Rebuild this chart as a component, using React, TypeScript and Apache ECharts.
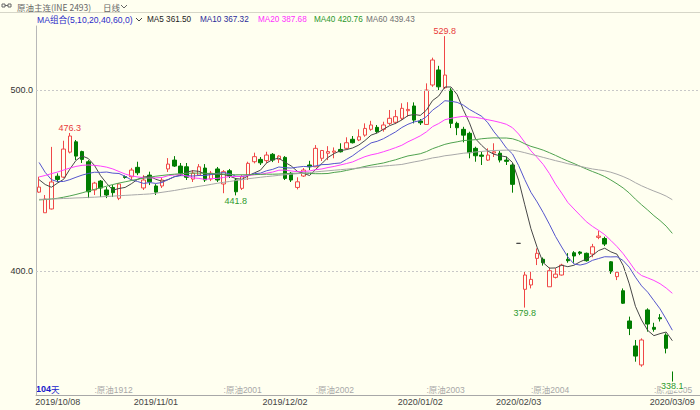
import React, { useEffect, useRef } from "react";
import * as echarts from "echarts";

const dates = [
  "2019/09/30",
  "2019/10/08","2019/10/09","2019/10/10","2019/10/11","2019/10/14","2019/10/15","2019/10/16","2019/10/17","2019/10/18",
  "2019/10/21","2019/10/22","2019/10/23","2019/10/24","2019/10/25","2019/10/28","2019/10/29","2019/10/30","2019/10/31",
  "2019/11/01","2019/11/04","2019/11/05","2019/11/06","2019/11/07","2019/11/08","2019/11/11","2019/11/12","2019/11/13",
  "2019/11/14","2019/11/15","2019/11/18","2019/11/19","2019/11/20","2019/11/21","2019/11/22","2019/11/25","2019/11/26",
  "2019/11/27","2019/11/28","2019/11/29",
  "2019/12/02","2019/12/03","2019/12/04","2019/12/05","2019/12/06","2019/12/09","2019/12/10","2019/12/11","2019/12/12",
  "2019/12/13","2019/12/16","2019/12/17","2019/12/18","2019/12/19","2019/12/20","2019/12/23","2019/12/24","2019/12/25",
  "2019/12/26","2019/12/27","2019/12/30","2019/12/31",
  "2020/01/02","2020/01/03","2020/01/06","2020/01/07","2020/01/08","2020/01/09","2020/01/10","2020/01/13","2020/01/14",
  "2020/01/15","2020/01/16","2020/01/17","2020/01/20","2020/01/21","2020/01/22","2020/01/23",
  "2020/02/03","2020/02/04","2020/02/05","2020/02/06","2020/02/07","2020/02/10","2020/02/11","2020/02/12","2020/02/13",
  "2020/02/14","2020/02/17","2020/02/18","2020/02/19","2020/02/20","2020/02/21","2020/02/24","2020/02/25","2020/02/26",
  "2020/02/27","2020/02/28",
  "2020/03/02","2020/03/03","2020/03/04","2020/03/05","2020/03/06","2020/03/09",
];

const openP = [
  443.6,432.2,434.3,452.4,451.9,465.7,471.4,466.0,460.4,444.8,
  449.7,444.8,446.2,440.2,452.2,452.1,457.3,445.9,453.0,447.0,
  447.0,456.4,461.3,458.0,457.6,450.8,453.0,456.9,450.8,456.4,
  448.1,455.4,450.3,445.7,453.0,460.4,461.7,461.0,464.5,461.7,
  462.8,454.0,446.2,452.5,458.6,457.6,462.3,465.1,465.7,467.2,
  467.8,472.8,472.4,475.1,478.3,479.4,478.3,481.6,482.2,484.4,
  488.6,491.2,482.9,481.0,502.8,511.1,501.3,500.0,481.6,478.3,
  476.1,467.8,464.1,461.3,465.2,465.1,461.3,458.6,415.3,389.9,
  392.3,407.0,406.5,391.3,396.5,397.8,406.5,410.1,410.5,409.8,
  409.4,418.6,418.0,405.1,396.9,389.1,372.4,358.6,348.1,378.5,
  368.9,374.2,364.6,338.1,
];
const closeP = [
  446.4,439.8,449.2,450.6,467.4,474.6,463.5,461.7,443.8,448.6,
  445.9,442.0,443.3,448.1,451.7,455.8,454.3,450.3,449.3,443.6,
  450.3,459.1,458.0,454.1,451.8,454.1,457.6,450.3,454.1,450.3,
  454.9,452.5,443.8,452.1,459.5,463.2,459.8,464.1,461.3,463.5,
  451.2,450.3,449.3,455.8,457.6,467.8,466.6,466.0,466.3,465.9,
  470.9,470.9,474.2,478.8,480.7,477.0,480.7,484.4,485.3,489.9,
  489.3,483.4,481.9,500.0,516.6,501.8,508.3,481.6,479.2,475.1,
  465.4,463.7,463.4,464.1,465.9,461.3,460.6,447.9,415.3,397.8,
  395.4,409.8,404.6,400.2,398.3,403.3,405.7,408.3,409.8,405.7,
  413.4,419.3,414.9,399.6,399.3,382.2,368.3,353.0,361.9,370.7,
  367.8,373.6,357.3,338.1,
];
const lowP = [
  443.2,432.2,434.0,449.0,451.4,465.0,461.3,459.7,440.3,442.0,
  440.9,440.3,440.9,439.2,451.0,450.3,453.0,444.8,447.5,442.0,
  445.9,454.7,457.5,452.5,450.3,449.2,452.5,449.2,449.7,449.2,
  443.0,451.4,441.8,444.8,450.3,459.5,458.6,459.7,460.2,459.7,
  450.3,449.2,445.1,452.0,455.8,457.5,460.8,461.3,462.3,465.5,
  467.2,470.5,471.8,474.2,477.5,476.2,477.0,480.7,481.2,483.4,
  485.3,481.6,480.7,480.7,501.8,500.0,500.6,479.0,475.1,471.1,
  462.3,460.4,458.6,460.8,463.0,460.0,458.6,443.3,415.3,379.8,
  390.4,403.3,403.0,391.3,395.9,397.5,404.6,404.6,408.8,405.2,
  407.6,417.6,413.8,398.4,395.0,381.8,364.6,349.9,347.1,366.5,
  366.5,372.1,354.5,338.1,
];
const highP = [
  452.1,442.0,468.6,454.0,472.0,476.3,472.4,466.5,461.3,449.3,
  450.3,446.4,447.5,448.5,452.8,457.0,460.4,453.0,454.9,448.0,
  451.4,462.4,463.5,459.7,459.7,455.8,459.1,459.1,455.3,457.5,
  455.8,456.4,451.4,453.0,460.4,465.4,463.0,465.9,465.2,464.0,
  463.5,454.7,451.8,456.9,460.9,469.6,466.9,469.0,468.3,470.6,
  473.9,474.6,478.3,481.6,483.0,480.7,482.5,489.0,489.0,492.7,
  493.3,493.2,484.0,503.7,517.9,513.4,529.8,501.1,482.5,479.7,
  477.0,468.7,465.9,467.8,470.6,466.3,463.2,459.7,415.3,399.6,
  399.6,412.5,407.5,402.0,401.6,404.0,409.9,411.0,411.0,410.2,
  415.0,422.3,419.0,405.5,399.6,390.4,374.8,361.9,362.8,379.4,
  371.4,376.2,365.6,344.5,
];

const ma5 = [
  450.5,447.8,446.3,448.6,450.7,456.3,461.1,463.6,462.2,458.4,
  452.7,448.4,444.7,445.6,446.2,448.2,450.6,452.0,452.3,450.7,
  449.6,450.5,452.1,453.0,454.7,455.4,455.1,453.6,453.6,453.3,
  453.4,452.4,451.1,450.7,452.6,454.2,455.7,459.7,461.6,462.4,
  460.0,458.1,455.1,454.0,452.8,456.2,459.4,462.8,464.9,466.5,
  467.1,468.0,469.6,472.1,475.1,476.3,478.3,480.3,481.6,483.5,
  485.9,486.5,486.0,488.9,494.2,496.7,501.7,501.7,497.5,489.2,
  481.9,473.0,469.4,466.3,464.5,463.7,463.1,460.0,450.2,436.6,
  423.4,413.2,404.6,401.6,401.7,403.2,402.4,403.2,405.1,406.6,
  408.6,411.3,412.6,410.6,409.3,403.1,392.9,380.5,372.9,367.2,
  364.3,365.4,366.3,361.5,
];
const ma10 = [
  460.0,454.5,450.5,449.4,449.5,450.5,451.8,453.0,453.9,454.6,
  454.5,454.7,454.1,453.9,452.3,450.4,449.5,448.4,448.9,448.4,
  448.9,450.6,452.1,452.7,452.7,452.5,452.8,452.8,453.3,454.0,
  454.4,453.8,452.4,452.2,452.9,453.8,454.1,455.4,456.2,457.5,
  457.1,456.9,457.4,457.8,457.6,458.1,458.8,458.9,459.4,459.7,
  461.7,463.7,466.2,468.5,470.8,471.7,473.1,475.0,476.9,479.3,
  481.1,482.4,483.1,485.3,488.9,491.3,494.1,493.8,493.2,491.7,
  489.3,487.4,485.5,481.9,476.9,472.8,468.0,464.7,458.3,450.5,
  443.5,438.2,432.3,425.9,419.1,413.3,407.8,403.9,403.3,404.1,
  405.9,406.9,407.9,407.8,407.9,405.8,402.1,396.6,391.8,388.3,
  383.7,379.1,373.4,367.3,
];
const ma20 = [
  452.0,452.8,453.8,454.7,455.8,456.9,457.8,458.4,458.6,458.4,
  458.0,457.4,456.4,455.0,453.6,452.6,452.0,451.6,451.4,451.5,
  451.7,452.7,453.1,453.3,452.5,451.5,451.2,450.6,451.1,451.2,
  451.7,452.2,452.2,452.4,452.8,453.2,453.4,454.1,454.7,455.7,
  455.8,455.3,454.9,455.0,455.3,456.0,456.4,457.2,457.8,458.6,
  459.4,460.3,461.8,463.2,464.2,464.9,465.9,467.0,468.2,469.5,
  471.4,473.0,474.7,476.9,479.8,481.5,483.6,484.4,485.0,485.5,
  485.2,484.9,484.3,483.6,482.9,482.1,481.1,479.2,475.7,471.1,
  466.4,462.8,458.9,453.9,448.0,443.1,437.9,434.3,430.8,427.3,
  424.7,422.5,420.1,416.9,413.5,409.6,405.0,400.2,397.5,396.2,
  394.8,393.0,390.6,387.7,
];
const ma40 = [
  439.3,439.5,439.8,440.2,440.8,441.5,442.3,443.2,444.2,445.1,
  446.0,446.9,447.8,448.6,449.3,450.0,450.7,451.3,451.9,452.4,
  452.8,453.2,453.5,453.8,454.0,454.1,454.1,454.0,453.9,453.7,
  453.5,453.3,453.2,453.2,453.2,453.3,453.4,453.5,453.5,453.6,
  453.8,454.0,454.0,454.2,453.9,453.8,453.8,453.9,454.5,454.9,
  455.6,456.3,457.0,457.8,458.5,459.1,459.7,460.6,461.5,462.6,
  463.6,464.2,464.8,466.0,467.6,468.8,470.0,470.8,471.4,472.1,
  472.3,472.6,473.1,473.4,473.6,473.5,473.5,473.1,472.0,470.3,
  468.9,467.9,466.8,465.4,463.9,462.3,460.8,459.4,457.9,456.4,
  455.0,453.7,452.2,450.3,448.2,445.9,443.1,439.7,436.6,433.7,
  430.6,427.9,424.8,420.8,
];
const ma60 = [
  439.6,439.7,439.8,439.9,440.1,440.2,440.4,440.5,440.7,440.8,
  441.0,441.2,441.4,441.6,441.8,442.0,442.2,442.4,442.6,443.0,
  443.5,444.0,444.5,445.1,445.7,446.2,446.8,447.3,447.9,448.5,
  449.0,449.5,450.0,450.5,451.0,451.4,451.8,452.2,452.5,452.9,
  453.2,453.5,453.8,454.1,454.4,454.8,455.1,455.4,455.7,456.0,
  456.3,456.6,456.9,457.2,457.4,457.7,458.0,458.3,458.6,458.9,
  459.6,460.3,460.9,461.7,462.5,463.0,463.7,464.1,464.6,465.1,
  465.4,465.8,466.1,466.4,466.6,466.7,466.8,466.8,466.2,465.4,
  464.5,463.7,462.8,461.9,461.0,460.2,459.3,458.6,457.9,457.1,
  456.4,455.9,455.4,454.6,453.5,452.2,450.7,448.8,447.1,445.6,
  444.2,442.9,441.4,439.4,
];

const maNames = ["MA5", "MA10", "MA20", "MA40", "MA60"];
const maLast = ["361.50", "367.32", "387.68", "420.76", "439.43"];
const yTicks = [400, 500];
const xLabelIdx = [1, 19, 40, 62, 78, 103];
const contractIdx = [9, 30, 45, 63, 80, 100];
const contractNames = ["原油1912", "原油2001", "原油2002", "原油2003", "原油2004", "原油2005"];
const highMarkIdx = [5, 66];
const lowMarkIdx = [32, 79, 103];
const flatIdx = [78];

const BG = "#fffff0";
const UP = "#f04848";
const DOWN = "#007d00";
const LAT = '"Liberation Sans", "Noto Sans CJK SC", sans-serif';
const CJK = '"Noto Sans CJK SC", "Liberation Sans", sans-serif';
const maLineColors = ["#484848", "#5555cc", "#ff40ff", "#4fa24f", "#a8a8a8"];
const maTextColors = ["#222222", "#2b2b99", "#ff30ff", "#2a962a", "#707070"];
const maTextX = [147, 200, 258, 314, 366];

export default function App() {
  const ref = useRef<HTMLDivElement>(null);
  useEffect(() => {
    document.body.style.margin = "0";
    const chart = echarts.init(ref.current!, null, { renderer: "svg" });
    const xCats = dates.concat(["", " ", "  ", "   "]);
    const candleData = dates.map((_, i) => {
      const item: any = { value: [openP[i], closeP[i], lowP[i], highP[i]] };
      if (flatIdx.includes(i)) {
        item.itemStyle = { color: "#444", color0: "#444", borderColor: "#444", borderColor0: "#444", borderColorDoji: "#444" };
      } else if (openP[i] === closeP[i]) {
        item.itemStyle = { color: DOWN, color0: DOWN, borderColor: DOWN, borderColor0: DOWN, borderColorDoji: DOWN };
      }
      return item;
    });
    const markData: any[] = [];
    highMarkIdx.forEach((i) =>
      markData.push({
        coord: [i, highP[i]],
        label: { show: true, position: "top", distance: 0, color: "#e83a3a", formatter: highP[i].toFixed(1) },
      })
    );
    lowMarkIdx.forEach((i) =>
      markData.push({
        coord: [i, lowP[i]],
        label: {
          show: true,
          position: "bottom",
          distance: i === 103 ? -2 : i === 32 ? 1 : 0,
          color: "#2e9a2e",
          formatter: lowP[i].toFixed(1),
          backgroundColor: i === 103 ? BG : "transparent",
        },
      })
    );
    const maSeries = [ma5, ma10, ma20, ma40, ma60].map((d, k) => ({
      name: maNames[k],
      type: "line",
      data: d,
      showSymbol: false,
      silent: true,
      lineStyle: { width: 1, color: maLineColors[k] },
      itemStyle: { color: maLineColors[k] },
      z: 3,
    }));
    chart.setOption({
      animation: false,
      backgroundColor: BG,
      grid: { left: 36, right: 0, top: 26, bottom: 15, containLabel: false },
      xAxis: {
        type: "category",
        data: xCats,
        boundaryGap: true,
        axisLine: { show: true, lineStyle: { color: "#a8a8a8", width: 1 } },
        axisTick: { show: false },
        splitLine: { show: false },
        axisLabel: {
          interval: (i: number) => xLabelIdx.includes(i),
          formatter: (v: string, i: number) => (i === xLabelIdx[0] ? `{first|${v}}` : v),
          rich: { first: { padding: [0, 0, 0, 25], fontSize: 9, color: "#444", fontFamily: LAT } },
          fontSize: 9,
          color: "#444",
          fontFamily: LAT,
          margin: 2,
        },
      },
      yAxis: {
        type: "value",
        min: 331.5,
        max: 535.4,
        position: "left",
        splitLine: { show: false },
        axisTick: { show: false },
        axisLine: { show: true, lineStyle: { color: "#b8b8b8", width: 1 } },
        axisLabel: {
          customValues: yTicks,
          formatter: (v: number) => v.toFixed(1),
          fontSize: 9,
          color: "#333",
          fontFamily: LAT,
          margin: 3,
        },
      },
      series: [
        {
          type: "candlestick",
          data: candleData,
          barWidth: 4,
          silent: true,
          itemStyle: { color: BG, color0: DOWN, borderColor: UP, borderColor0: DOWN, borderWidth: 1 },
          markLine: {
            silent: true,
            symbol: ["none", "none"],
            label: { show: false },
            lineStyle: { color: "#c8c8c8", type: [2, 2], width: 1 },
            data: yTicks.map((t) => ({ yAxis: t })),
          },
          markPoint: {
            silent: true,
            symbol: "circle",
            symbolSize: 1,
            itemStyle: { color: "rgba(0,0,0,0)" },
            label: { fontSize: 9, fontFamily: LAT },
            data: markData,
          },
          z: 2,
        },
        ...maSeries,
      ],
    });

    const els: any[] = [];
    els.push({ type: "line", shape: { x1: 0, y1: 12.5, x2: 700, y2: 12.5 }, style: { stroke: "#d6d6c8", lineWidth: 1 }, silent: true });
    els.push({ type: "rect", shape: { x: 2, y: 4, width: 3, height: 3 }, style: { fill: "none", stroke: "#666", lineWidth: 1 } });
    els.push({ type: "rect", shape: { x: 8, y: 4, width: 3, height: 3 }, style: { fill: "none", stroke: "#666", lineWidth: 1 } });
    els.push({ type: "line", shape: { x1: 5, y1: 5.5, x2: 8, y2: 5.5 }, style: { stroke: "#666", lineWidth: 1 } });
    els.push({ type: "text", x: 17, y: 6.5, style: { text: "原油主连(INE 2493)", fill: "#666", fontSize: 8.5, fontFamily: CJK, verticalAlign: "middle" } });
    els.push({ type: "text", x: 103, y: 6.5, style: { text: "日线", fill: "#666", fontSize: 8.5, fontFamily: CJK, verticalAlign: "middle" } });
    els.push({ type: "polyline", shape: { points: [[121, 5], [124, 8], [127, 5]] }, style: { stroke: "#666", fill: null, lineWidth: 1 } });
    els.push({ type: "text", x: 37, y: 19.5, style: { text: "MA组合(5,10,20,40,60,0)", fill: "#2b2bc8", fontSize: 8.6, fontFamily: LAT, verticalAlign: "middle" } });
    els.push({ type: "polyline", shape: { points: [[136, 18], [139, 21], [142, 18]] }, style: { stroke: "#444", fill: null, lineWidth: 1 } });
    maNames.forEach((n, k) => {
      els.push({ type: "text", x: maTextX[k], y: 19.5, style: { text: `${n} ${maLast[k]}`, fill: maTextColors[k], fontSize: 8.2, fontFamily: LAT, verticalAlign: "middle" } });
    });
    els.push({ type: "text", x: 36, y: 389, style: { text: "104", fill: "#1a1acc", fontSize: 9, fontWeight: "bold", fontFamily: LAT, verticalAlign: "middle" } });
    els.push({ type: "text", x: 51, y: 389, style: { text: "天", fill: "#1a1acc", fontSize: 8.5, fontFamily: CJK, verticalAlign: "middle" } });
    contractIdx.forEach((i, k) => {
      const px = chart.convertToPixel({ xAxisIndex: 0 }, i) as number;
      els.push({ type: "text", x: px, y: 389.5, style: { text: ":" + contractNames[k], fill: "#a8a8a8", fontSize: 8.5, fontFamily: LAT, verticalAlign: "middle" } });
    });
    chart.setOption({ graphic: { elements: els } });

    return () => chart.dispose();
  }, []);
  return <div ref={ref} style={{ width: 700, height: 410, background: BG }} />;
}
